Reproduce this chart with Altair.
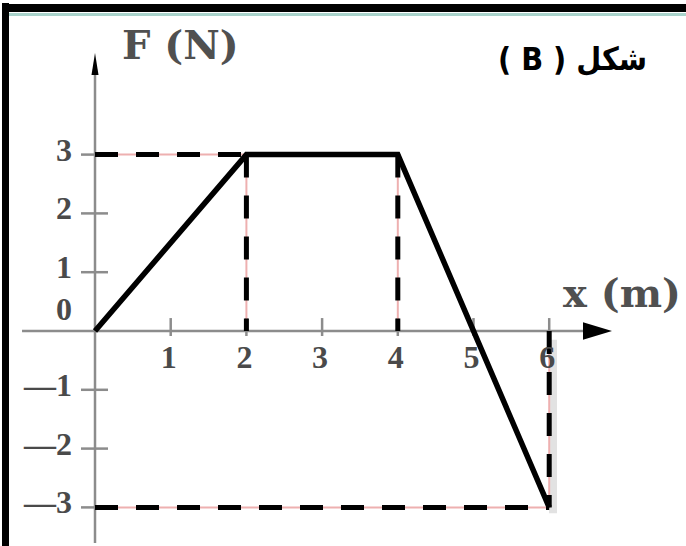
import altair as alt
import pandas as pd

# Force F (N) as a function of position x (m)
x_m = [0, 2, 4, 6]
force_n = [0, 3, 3, -3]

# axis ticks and their labels
x_ticks = [1, 2, 3, 4, 5, 6]
x_tick_labels = ["1", "2", "3", "4", "5", "6"]
y_ticks = [-3, -2, -1, 1, 2, 3]
y_tick_labels = ["—3", "—2", "—1", "1", "2", "3"]

# dashed guide segments from the corners of the curve to the axes
guide_x1 = [0, 2, 4, 6, 0]
guide_y1 = [3, 3, 3, 0, -3]
guide_x2 = [2, 2, 4, 6, 6]
guide_y2 = [3, 0, 0, -3, -3]

W, H = 686, 546
xs = alt.Scale(domain=[-1.255, 7.807], nice=False, zero=False)
ys = alt.Scale(domain=[-3.6565, 5.6293], nice=False, zero=False)


def X(f, **kw):
    return alt.X(f, type="quantitative", scale=xs, axis=None, **kw)


def Y(f, **kw):
    return alt.Y(f, type="quantitative", scale=ys, axis=None, **kw)


AXIS_GREY = "#8c8c8c"
LABEL_FONT = "Liberation Serif"
TITLE_FONT = "DejaVu Serif"
LABEL_COLOR = "#4a4a4a"

curve = pd.DataFrame({"x": x_m, "F": force_n})
guides = pd.DataFrame({"x1": guide_x1, "y1": guide_y1, "x2": guide_x2, "y2": guide_y2})

# frame around the figure
frame_left = alt.Chart(pd.DataFrame({"k": [0]})).mark_rule(color="black", strokeWidth=7).encode(
    x=alt.value(5.5), y=alt.value(3), y2=alt.value(H)
)
frame_top = alt.Chart(pd.DataFrame({"k": [0]})).mark_rule(color="black", strokeWidth=8).encode(
    x=alt.value(2), x2=alt.value(W), y=alt.value(8)
)
frame_teal = alt.Chart(pd.DataFrame({"k": [0]})).mark_rule(color="#a9d3cb", strokeWidth=3).encode(
    x=alt.value(9), x2=alt.value(W), y=alt.value(14.5)
)

# coordinate axes
y_axis = alt.Chart(pd.DataFrame({"x": [0], "y1": [-3.605], "y2": [4.44]})).mark_rule(
    color=AXIS_GREY, strokeWidth=2.5
).encode(x=X("x"), y=Y("y1"), y2="y2")
x_axis = alt.Chart(pd.DataFrame({"y": [0], "x1": [-0.964], "x2": [6.67]})).mark_rule(
    color=AXIS_GREY, strokeWidth=2.5
).encode(y=Y("y"), x=X("x1"), x2="x2")

y_arrow = alt.Chart(pd.DataFrame({"x": [0], "y": [4.541]})).mark_point(
    shape="M0,-1L0.32,1L-0.32,1Z", filled=True, color="black", opacity=1, size=484
).encode(x=X("x"), y=Y("y"))
x_arrow = alt.Chart(pd.DataFrame({"x": [6.638], "y": [0]})).mark_point(
    shape="M1,0L-1,-0.6L-1,0.6Z", filled=True, color="black", opacity=1, size=841
).encode(x=X("x"), y=Y("y"))

y_tick_df = pd.DataFrame({"v": y_ticks, "lab": y_tick_labels, "a": -0.185, "b": 0.172})
x_tick_df = pd.DataFrame({"v": x_ticks, "lab": x_tick_labels, "a": 0.22, "b": -0.085})

y_tick_marks = alt.Chart(y_tick_df).mark_rule(color=AXIS_GREY, strokeWidth=2.5).encode(
    y=Y("v"), x=X("a"), x2="b"
)
x_tick_marks = alt.Chart(x_tick_df).mark_rule(color=AXIS_GREY, strokeWidth=2.5).encode(
    x=X("v"), y=Y("a"), y2="b"
)

label_style = dict(font=LABEL_FONT, fontSize=32, fontWeight="bold", color=LABEL_COLOR, baseline="middle")

y_labels = alt.Chart(y_tick_df.assign(lx=-0.304)).mark_text(
    align="right", dy=-4, **label_style
).encode(x=X("lx"), y=Y("v"), text="lab:N")
zero_label = alt.Chart(pd.DataFrame({"lx": [-0.304], "v": [0], "lab": ["0"]})).mark_text(
    align="right", dy=-21, **label_style
).encode(x=X("lx"), y=Y("v"), text="lab:N")
x_labels = alt.Chart(x_tick_df.assign(ly=0)).mark_text(
    align="center", dx=-2, dy=27, **label_style
).encode(x=X("v"), y=Y("ly"), text="lab:N")

title_style = dict(font=TITLE_FONT, fontSize=40, fontWeight="bold", color="#505050", align="left", baseline="middle")
f_title = alt.Chart(pd.DataFrame({"x": [0.357], "y": [4.83], "t": ["F (N)"]})).mark_text(
    **title_style
).encode(x=X("x"), y=Y("y"), text="t:N")
x_title = alt.Chart(pd.DataFrame({"x": [6.182], "y": [0.612], "t": ["x (m)"]})).mark_text(
    **title_style
).encode(x=X("x"), y=Y("y"), text="t:N")

fig_label = alt.Chart(pd.DataFrame({"x": [7.292], "y": [4.609], "t": ["( B ) شكل"]})).mark_text(
    font="DejaVu Sans Condensed, DejaVu Sans", fontSize=32, fontWeight="bold", color="black",
    align="right", baseline="middle"
).encode(x=X("x"), y=Y("y"), text="t:N")

# light shading beside the x = 6 guide
shade = alt.Chart(pd.DataFrame({"x": [6.05], "y1": [-0.15], "y2": [-3.1]})).mark_rule(
    color="#e2e2e2", strokeWidth=8
).encode(x=X("x"), y=Y("y1"), y2="y2")

guide_under = alt.Chart(guides).mark_rule(color="#eeb0b0", strokeWidth=2).encode(
    x=X("x1"), y=Y("y1"), x2="x2", y2="y2"
)
guide_dash = alt.Chart(guides).mark_rule(
    color="black", strokeWidth=5, strokeDash=[23, 18], strokeCap="butt"
).encode(x=X("x1"), y=Y("y1"), x2="x2", y2="y2")

line = alt.Chart(curve).mark_line(
    color="black", strokeWidth=5.5, strokeJoin="miter", strokeCap="butt"
).encode(x=X("x"), y=Y("F"))

chart = alt.layer(
    frame_left, frame_top, frame_teal,
    shade,
    y_axis, x_axis, y_tick_marks, x_tick_marks, y_arrow, x_arrow,
    guide_under, guide_dash, line,
    y_labels, zero_label, x_labels, f_title, x_title, fig_label,
).properties(
    width=W, height=H, padding=0, autosize=alt.AutoSizeParams(type="none"),
    background="white",
).configure_view(stroke=None)

chart.save("out.html", embed_options={"renderer": "svg", "actions": False})
